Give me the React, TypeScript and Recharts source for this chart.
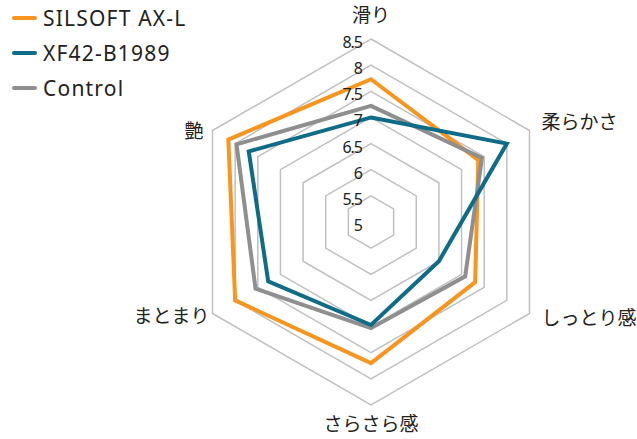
import React from "react";
import {
  PolarAngleAxis,
  PolarGrid,
  PolarRadiusAxis,
  Radar,
  RadarChart,
} from "recharts";

// attribute axes, clockwise from the top
const attributes = ["滑り", "柔らかさ", "しっとり感", "さらさら感", "まとまり", "艶"];

const silsoftValues = [7.73, 7.37, 7.3, 7.7, 8.0, 8.15];
const xf42Values = [7.0, 8.0, 6.5, 6.97, 7.27, 7.7];
const controlValues = [7.22, 7.45, 7.08, 7.03, 7.55, 7.97];

const radiusTicks = [5, 5.5, 6, 6.5, 7, 7.5, 8, 8.5];

const series = [
  { key: "silsoft", name: "SILSOFT AX-L", color: "#f7951f" },
  { key: "xf42", name: "XF42-B1989", color: "#0f6c86" },
  { key: "control", name: "Control", color: "#8f8f8f" },
];

// drawing order: Control sits over SILSOFT, XF42 on top of both
const drawOrder = ["silsoft", "control", "xf42"];

const chartData = attributes.map((attr, i) => ({
  attr,
  silsoft: silsoftValues[i],
  xf42: xf42Values[i],
  control: controlValues[i],
}));

const CX = 371;
const CY = 222;
// recharts rounds the radius domain up to 9, so size the chart so that 8.5 sits at 183px
const DOMAIN: [number, number] = [5, 9];
const RING_R = 183;
const OUTER_R = (RING_R * (DOMAIN[1] - DOMAIN[0])) / (8.5 - DOMAIN[0]);
const LABEL_R = RING_R + 8;
const FONT = "'Noto Sans', 'Noto Sans CJK JP', sans-serif";

function AngleTick(props: any) {
  const { x, y, payload, textAnchor } = props;
  const k = LABEL_R / Math.hypot(x - CX, y - CY);
  const lx = CX + (x - CX) * k;
  const ly = CY + (y - CY) * k;
  let dx = 0;
  let dy = 0;
  if (textAnchor === "middle") {
    dy = ly < CY ? -16 : 11;
  } else if (textAnchor === "start") {
    dx = 5;
    dy = ly < CY ? -5 : 0;
  } else {
    dx = ly < CY ? -2 : 4;
    dy = ly < CY ? 4 : -2;
  }
  return (
    <text
      x={lx + dx}
      y={ly + dy}
      textAnchor={textAnchor}
      dominantBaseline="central"
      fontSize={19}
      fill="#222"
      fontFamily={FONT}
    >
      {payload.value}
    </text>
  );
}

function RadiusTick(props: any) {
  const { x, y, payload } = props;
  return (
    <text
      x={x - 9}
      y={y + 3}
      textAnchor="end"
      dominantBaseline="central"
      fontSize={16}
      letterSpacing={-1}
      fill="#222"
      fontFamily={FONT}
    >
      {payload.value}
    </text>
  );
}

export default function App() {
  return (
    <div
      style={{
        position: "absolute",
        left: 0,
        top: 0,
        width: 637,
        height: 439,
        background: "#fff",
        fontFamily: FONT,
      }}
    >
      <RadarChart
        width={637}
        height={439}
        data={chartData}
        cx={CX}
        cy={CY}
        outerRadius={OUTER_R}
        margin={{ top: 0, right: 0, bottom: 0, left: 0 }}
      >
        <PolarGrid gridType="polygon" radialLines={false} stroke="#c0c0c0" strokeWidth={1.5} />
        <PolarAngleAxis
          dataKey="attr"
          tick={AngleTick}
          tickLine={false}
          axisLine={false}
        />
        <PolarRadiusAxis
          type="number"
          angle={90}
          domain={DOMAIN}
          allowDataOverflow
          ticks={radiusTicks as any}
          tick={RadiusTick}
          tickLine={false}
          axisLine={false}
        />
        {drawOrder.map((key) => {
          const s = series.find((item) => item.key === key)!;
          return (
            <Radar
              key={s.key}
              dataKey={s.key}
              name={s.name}
              stroke={s.color}
              strokeWidth={4}
              fill="none"
              fillOpacity={0}
              dot={false}
              isAnimationActive={false}
            />
          );
        })}
      </RadarChart>

      <div style={{ position: "absolute", left: 12, top: 0 }}>
        {series.map((s) => (
          <div
            key={s.key}
            style={{ display: "flex", alignItems: "center", height: 35 }}
          >
            <span
              style={{
                display: "inline-block",
                width: 25,
                height: 4,
                borderRadius: 2,
                background: s.color,
                marginRight: 6,
              }}
            />
            <span style={{ fontSize: 21, letterSpacing: 1.2, color: "#222" }}>
              {s.name}
            </span>
          </div>
        ))}
      </div>
    </div>
  );
}
